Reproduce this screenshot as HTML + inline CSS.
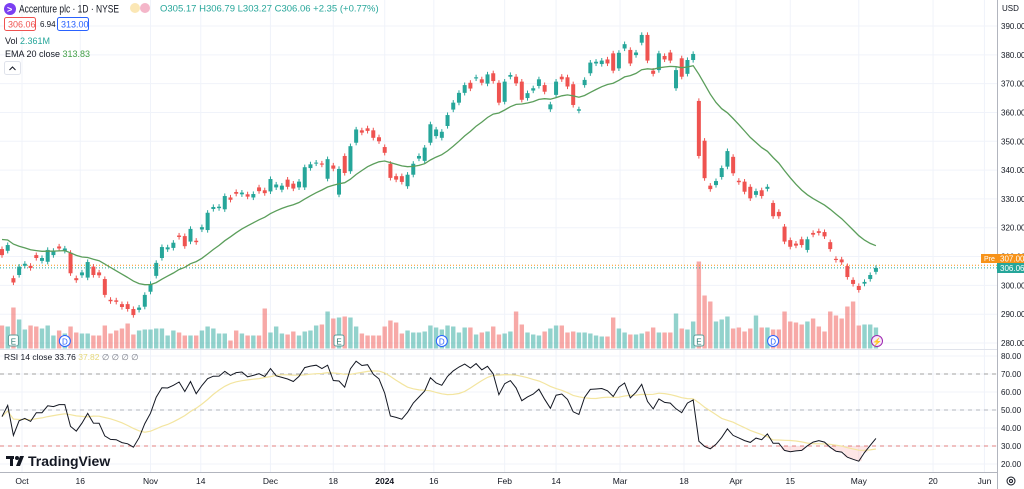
<!DOCTYPE html>
<html><head><meta charset="utf-8">
<style>
html,body{margin:0;padding:0;background:#fff;overflow:hidden}
svg{display:block;font-family:"Liberation Sans",sans-serif}
</style></head>
<body>
<svg id="chart" width="1024" height="489" viewBox="0 0 1024 489" xmlns="http://www.w3.org/2000/svg">
  <g id="grid"></g>
  <g id="vol"></g>
  <g id="candles"></g>
  <g id="ema"></g>
  <g id="rsi"></g>
  <g id="axes"></g>
  <g id="legend">
    <circle cx="10" cy="9" r="6" fill="#7b3ff2"/>
    <text x="7" y="12.5" font-size="9" fill="#fff" font-weight="bold">&gt;</text>
    <text x="19" y="12.5" font-size="11" textLength="100" lengthAdjust="spacingAndGlyphs" fill="#131722">Accenture plc · 1D · NYSE</text>
    <circle cx="135" cy="8" r="5" fill="#fbe7b5"/>
    <circle cx="145" cy="8" r="5" fill="#f4b6c9"/>
    <text x="160" y="11.5" font-size="9.5" fill="#26a69a">O305.17 H306.79 L303.27 C306.06 +2.35 (+0.77%)</text>
    <rect x="4.5" y="17.5" width="31" height="13" rx="2" fill="#fff" stroke="#ef5350"/>
    <text x="8" y="27.5" font-size="9" fill="#ef5350">306.06</text>
    <text x="40" y="27" font-size="8" fill="#131722">6.94</text>
    <rect x="57.5" y="17.5" width="31" height="13" rx="2" fill="#fff" stroke="#2962ff"/>
    <text x="61" y="27.5" font-size="9" fill="#2962ff">313.00</text>
    <text x="5" y="44" font-size="9" fill="#131722">Vol <tspan fill="#26a69a">2.361M</tspan></text>
    <text x="5" y="57" font-size="9" fill="#131722">EMA 20 close <tspan fill="#43a047">313.83</tspan></text>
    <rect x="4.5" y="61.5" width="16" height="13" rx="2" fill="#fff" stroke="#e0e3eb"/>
    <path d="M9.5 70 L12.5 67 L15.5 70" fill="none" stroke="#131722" stroke-width="1"/>
    <text x="4" y="360" font-size="8.5" fill="#131722">RSI 14 close <tspan fill="#131722">33.76</tspan> <tspan fill="#e6d87a">37.82</tspan> <tspan fill="#787b86">∅ ∅ ∅ ∅</tspan></text>
    <g>
      <rect x="6" y="456" width="8" height="3" fill="#131722"/>
      <rect x="10" y="456" width="3" height="10" fill="#131722"/>
      <circle cx="17" cy="458" r="2" fill="#131722"/>
      <path d="M20 456 L24 456 L20 466 L16 466 Z" fill="#131722"/>
      <text x="28" y="466" font-size="14" font-weight="bold" fill="#131722">TradingView</text>
    </g>
  </g>
</svg>
<script>
const opens=[312.6,312,302.5,303.6,306.8,306.8,310.5,308.5,308.2,310.5,313.5,312,311.3,302.5,303.5,302.7,306.5,304.5,302.2,295,294.8,293.5,293.5,291.8,291.5,292.6,297.8,303.3,309.5,312.5,313,317.3,317.1,315.2,315.5,319.4,319.2,326.5,326.8,326.4,330.5,332.4,331.6,331.6,
330.5,334,333,332.6,334,333.2,336.7,335.3,334,334,340.7,342.3,342.3,337,341.6,331.5,344.9,339.6,349.5,353.8,354.5,353.8,351.4,348,342.2,337.9,337.9,334.4,338.4,344,343.2,349.5,351.8,351.2,355.3,361,363.4,366.8,370.3,371.8,371.5,370,373.6,370.3,
363.7,372.4,372.4,370.7,365,367.6,369.2,369.5,361.1,366.1,372.4,372.2,369.8,360.6,369.5,373.6,377,376.8,378.4,380.5,375.3,382.2,381.7,379.9,384.2,386.9,374.5,374.7,379.6,380.8,368.4,378.8,373.4,378.2,
364,350.2,334.6,334.8,337.6,341.2,344.6,336.3,336,334.2,331.4,333,333.5,328.6,325.5,320.4,315.7,314.5,316,312.3,318.2,318.8,318.5,315,309.2,309,306.7,301.9,299.8,300.6,302.2,304.7];
const closes=[310.5,314,301,306.5,307.5,306,309.5,309.5,312.3,312,312.8,312.8,304.2,301.8,304.5,308.1,303.6,303.5,296.7,294.5,294.3,292.5,291.8,289.7,292.3,296.7,300.5,307.8,313.3,313.2,314.8,316.8,313.6,319.6,315,320.2,325.2,327.2,327.3,331,329.7,331.8,332.2,330.8,
331.7,332.7,332,336.9,335,334.6,334.2,333.6,336,341,342,342.6,341.9,343.8,340.5,340.4,339,348.3,354.1,353,353.6,351.2,350,346,337.3,336.7,335.9,338.4,342.2,344.9,347.8,355.9,354.1,353.3,359.1,363.4,366.8,369.5,368.3,372.2,370.3,373.2,370.9,363.4,
370.7,373,370.1,364.4,366.7,368.4,371.5,367.2,362.8,370.7,371.5,369,362.6,361.1,371.3,377.3,377.6,378,377,374.5,380.7,383.7,377,380.8,386.9,378,373.4,380.5,378.4,378,374.7,372.4,378.2,380.3,
344.9,337.2,333.4,336.2,340.7,346.6,338.9,335.8,332.5,330.2,332.7,331,334.2,324,324,315.2,313.4,313.8,314,316,317.6,318.2,317,312.6,308.8,308,302.9,300.5,298.4,301.2,303.6,306.06];
const volumes=[2.3,2.2,4.1,2.9,1.9,2.3,2.2,2.0,2.3,1.3,1.8,1.5,2.2,1.6,1.5,1.5,1.3,1.3,2.3,1.5,1.8,2.0,2.5,1.4,1.8,1.9,1.9,2.0,2.0,1.3,1.8,1.6,1.3,1.3,1.3,1.8,2.2,2.0,1.5,1.5,0.8,1.8,1.5,1.3,
1.3,1.3,4.0,1.6,2.2,1.5,1.4,1.7,1.3,1.7,1.8,2.3,2.4,3.7,3.0,3.1,3.2,3.1,2.2,1.5,1.3,1.3,1.3,2.2,2.8,2.6,1.5,1.8,1.6,1.6,1.7,2.3,2.1,1.9,2.3,2.2,1.6,2.1,2.1,1.4,1.6,1.7,2.2,1.4,
1.5,1.7,3.7,2.4,1.6,1.4,1.3,1.7,2.0,2.3,2.3,1.6,1.7,1.6,1.6,1.5,1.3,1.2,1.2,3.1,2.0,1.6,1.4,1.4,1.5,1.7,2.1,1.6,1.6,1.6,3.5,2.0,1.9,2.7,
8.7,5.3,4.7,2.7,2.9,3.2,2.0,2.1,1.7,2.0,3.3,2.1,2.1,1.9,1.9,3.7,2.7,2.6,2.4,2.7,3.0,2.2,1.7,3.7,3.3,3.0,4.2,4.7,2.3,2.4,2.4,2.1];
const priceTicks=[390,380,370,360,350,340,330,320,310,300,290,280];
const rsiTicks=[80,70,60,50,40,30,20];
const timeLabels=["Oct","16","Nov","14","Dec","18","2024","16","Feb","14","Mar","18","Apr","15","May","20","Jun"];
const timeLabelBars=[3.5,13.7,26,34.8,47,58,67,75.6,88,97,108.2,119.4,128.5,138,150,163,172];
const eventTypes=["E","D","E","D","E","D"];
const eventBars=[2,11,59,77,122,135];

const NS="http://www.w3.org/2000/svg";
const TEAL="#26a69a",RED="#ef5350";
const xOf=i=>2+i*5.712;
const yP=p=>26+(390-p)*2.882;
const yR=r=>356+(80-r)*1.8;
const yV=v=>348.5-v*10;
function mk(tag,attrs,parent){const e=document.createElementNS(NS,tag);for(const k in attrs)e.setAttribute(k,attrs[k]);parent.appendChild(e);return e;}
const G=id=>document.getElementById(id);

const grid=G('grid');
priceTicks.forEach(p=>{const l=mk('line',{x1:0,x2:997,y1:yP(p),y2:yP(p),stroke:'#f0f3fa'},grid);

});
rsiTicks.forEach(r=>{const l=mk('line',{x1:0,x2:997,y1:yR(r),y2:yR(r),stroke:'#f0f3fa'},grid);

});
timeLabelBars.forEach(b=>{const l=mk('line',{x1:xOf(b),x2:xOf(b),y1:0,y2:472,stroke:'#f0f3fa'},grid);

});

const vol=G('vol');
volumes.forEach((v,i)=>{const up=closes[i]>=opens[i];
const r=mk('rect',{x:xOf(i)-2.2,y:yV(v),width:4.4,height:v*10,fill:up?'rgba(38,166,154,0.5)':'rgba(239,83,80,0.5)'},vol);

});

const pl=mk('line',{x1:0,x2:997,y1:yP(307),y2:yP(307),stroke:'#f7931a','stroke-dasharray':'1 2'},vol);


const cl=mk('line',{x1:0,x2:997,y1:yP(306.06),y2:yP(306.06),stroke:TEAL,'stroke-dasharray':'1 2'},vol);



const cg=G('candles');
closes.forEach((c,i)=>{const o=opens[i];const up=c>=o;const col=up?TEAL:RED;
const hi=Math.max(o,c)+0.9,lo=Math.min(o,c)-0.9;const x=xOf(i);
const w=mk('line',{x1:x,x2:x,y1:yP(hi),y2:yP(lo),stroke:col,'stroke-width':1},cg);


const top=yP(Math.max(o,c)),bh=Math.max(1,yP(Math.min(o,c))-top);
const b=mk('rect',{x:x-2,y:top,width:4,height:bh,fill:col},cg);

});

let ema=[];let e=316.5;const k=2/21;
closes.forEach((c,i)=>{e=c*k+e*(1-k);ema.push(e);});
const ep=mk('path',{d:ema.map((v,i)=>(i?'L':'M')+xOf(i).toFixed(1)+' '+yP(v).toFixed(1)).join(''),fill:'none',stroke:'#5b9e5b','stroke-width':1.3},G('ema'));



const sep=mk('line',{x1:0,x2:1024,y1:349.5,y2:349.5,stroke:'#e0e3eb'},G('axes'));



const rg=G('rsi');
[[70,'#a0a0a0'],[50,'#b2b5be'],[30,'#e08080']].forEach(([v,c])=>{const l=mk('line',{x1:0,x2:997,y1:yR(v),y2:yR(v),stroke:c,'stroke-dasharray':'4 4'},rg);

});
let ag=0.95,al=1.1,rsi=[];
closes.forEach((c,i)=>{if(i>0){const d=c-closes[i-1];ag=(ag*13+Math.max(d,0))/14;al=(al*13+Math.max(-d,0))/14;}rsi.push(100-100/(1+ag/al));});
let rma=[];rsi.forEach((v,i)=>{const s=rsi.slice(Math.max(0,i-13),i+1);rma.push(s.reduce((a,b)=>a+b,0)/s.length);});
let fill='';rsi.forEach((v,i)=>{if(v<30){fill+=`M${xOf(i)-2.9} ${yR(30)}h5.8V${yR(v)}H${xOf(i)-2.9}Z`;}});
const of=mk('path',{d:fill,fill:'rgba(239,83,80,0.15)'},rg);


const mp=mk('path',{d:rma.map((v,i)=>(i?'L':'M')+xOf(i).toFixed(1)+' '+yR(v).toFixed(1)).join(''),fill:'none',stroke:'#f3e5a0','stroke-width':1.2},rg);


const rp=mk('path',{d:rsi.map((v,i)=>(i?'L':'M')+xOf(i).toFixed(1)+' '+yR(v).toFixed(1)).join(''),fill:'none',stroke:'#131722','stroke-width':1},rg);



eventTypes.forEach((t,i)=>{const x=xOf(eventBars[i]);const g=mk('g',{},G('axes'));


if(t==='E'){mk('rect',{x:x-5,y:335,width:10,height:11,rx:2,fill:'#fff',stroke:'#5a9e9a'},g);}
else{mk('circle',{cx:x,cy:341,r:5.5,fill:'#fff',stroke:'#2962ff'},g);}
mk('text',{x:x,y:344.5,'font-size':8,'text-anchor':'middle',fill:t==='E'?'#2a7a72':'#2962ff'},g).textContent=t;});
const sp=mk('g',{},G('axes'));


mk('circle',{cx:877,cy:341,r:5.5,fill:'#f9e6fb',stroke:'#9c27b0'},sp);
mk('text',{x:877,y:344.5,'font-size':8,'text-anchor':'middle',fill:'#9c27b0'},sp).textContent='⚡';

const ax=G('axes');
mk('rect',{x:997,y:0,width:27,height:489,fill:'#fff'},ax);
mk('rect',{x:0,y:472,width:1024,height:17,fill:'#fff'},ax);
const va=mk('line',{x1:997.5,x2:997.5,y1:0,y2:489,stroke:'#b2b5be'},ax);


const ha=mk('line',{x1:0,x2:997,y1:472.5,y2:472.5,stroke:'#b2b5be'},ax);


const usd=mk('text',{x:1002,y:11,'font-size':8,fill:'#131722'},ax);usd.textContent='USD';


priceTicks.forEach(p=>{const t=mk('text',{x:1001,y:yP(p)+3,'font-size':8,fill:'#131722'},ax);t.textContent=p.toFixed(2);

});
rsiTicks.forEach(r=>{const t=mk('text',{x:1001,y:yR(r)+3,'font-size':8,fill:'#131722'},ax);t.textContent=r.toFixed(2);

});
timeLabels.forEach((s,i)=>{const t=mk('text',{x:xOf(timeLabelBars[i]),y:484,'font-size':8.5,'text-anchor':'middle',fill:'#131722','font-weight':s==='2024'?'bold':'normal'},ax);t.textContent=s;

});
const pre=mk('rect',{x:981,y:254,width:16,height:9,fill:'#f7931a'},ax);


mk('text',{x:984,y:261,'font-size':7,fill:'#fff'},ax).textContent='Pre';
const pb=mk('rect',{x:997,y:254,width:27,height:9,fill:'#f7931a'},ax);


mk('text',{x:1000,y:261.5,'font-size':8,fill:'#fff'},ax).textContent='307.00';
const lb=mk('rect',{x:997,y:263,width:27,height:10,fill:TEAL},ax);


mk('text',{x:1000,y:271,'font-size':8,fill:'#fff'},ax).textContent='306.06';
const gear=mk('circle',{cx:1011,cy:481,r:4,fill:'none',stroke:'#131722'},ax);


mk('circle',{cx:1011,cy:481,r:1.5,fill:'none',stroke:'#131722'},ax);
</script>
</body></html>
